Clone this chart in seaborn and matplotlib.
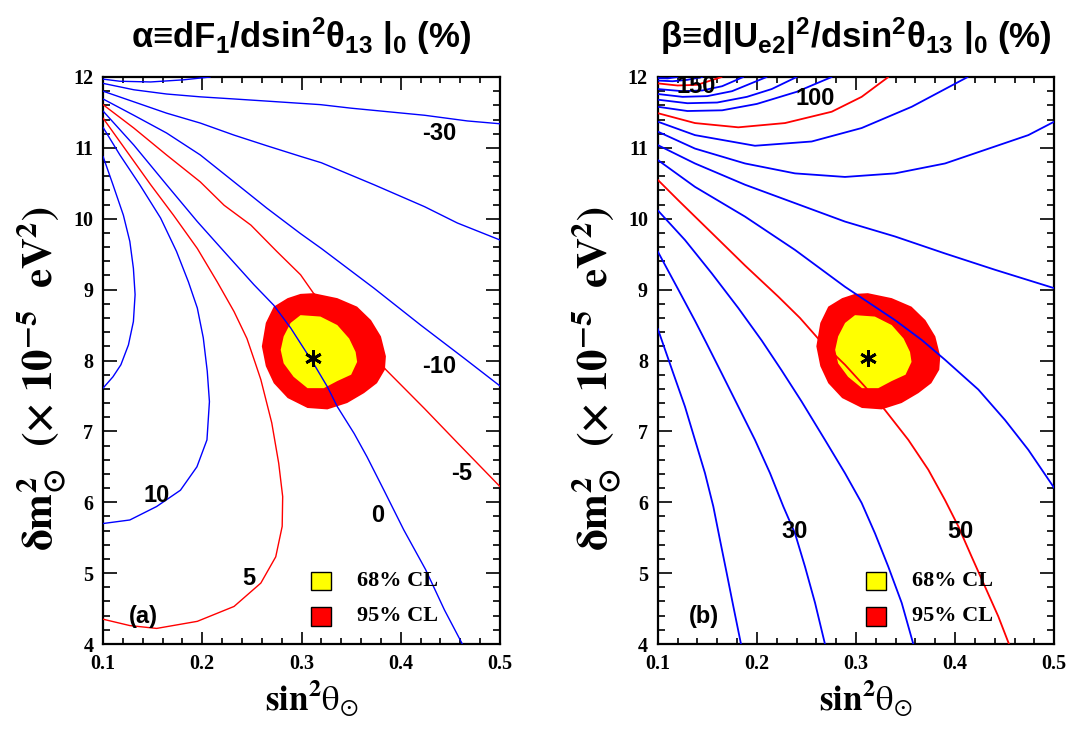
import matplotlib
matplotlib.use("Agg")
import matplotlib.pyplot as plt
import seaborn as sns
from matplotlib.ticker import MultipleLocator
from matplotlib.patches import Rectangle

# ---------------- data ----------------
x_ticks = [0.1, 0.2, 0.3, 0.4, 0.5]
x_tick_labels = ["0.1", "0.2", "0.3", "0.4", "0.5"]
y_ticks = [4, 5, 6, 7, 8, 9, 10, 11, 12]
y_tick_labels = ["4", "5", "6", "7", "8", "9", "10", "11", "12"]

best_x, best_y = 0.312, 8.03

cl95_x = [0.312, 0.336, 0.356, 0.370, 0.380, 0.385, 0.384, 0.376, 0.363, 0.346,
          0.326, 0.306, 0.286, 0.272, 0.264, 0.260, 0.264, 0.272, 0.286, 0.299]
cl95_y = [8.95, 8.88, 8.76, 8.57, 8.34, 8.06, 7.87, 7.68, 7.54, 7.40,
          7.31, 7.33, 7.47, 7.68, 7.92, 8.20, 8.53, 8.76, 8.88, 8.94]
cl68_x = [0.299, 0.319, 0.336, 0.348, 0.3545, 0.356, 0.350, 0.336, 0.3225, 0.306,
          0.292, 0.282, 0.279, 0.282, 0.289]
cl68_y = [8.64, 8.62, 8.50, 8.31, 8.12, 7.98, 7.80, 7.71, 7.61, 7.61,
          7.77, 7.96, 8.15, 8.34, 8.53]

# panel (a): alpha contours
a_top_x = [0.100, 0.117, 0.148, 0.181, 0.208]
a_top_y = [11.97, 11.94, 11.93, 11.96, 12.00]
a_m30_x = [0.100, 0.131, 0.164, 0.198, 0.232, 0.265, 0.319, 0.350, 0.424, 0.467, 0.500]
a_m30_y = [11.91, 11.82, 11.76, 11.72, 11.69, 11.66, 11.61, 11.56, 11.46, 11.38, 11.34]
a_m20_x = [0.100, 0.131, 0.164, 0.198, 0.232, 0.265, 0.299, 0.320, 0.373, 0.424, 0.457, 0.500]
a_m20_y = [11.80, 11.65, 11.49, 11.35, 11.18, 11.03, 10.88, 10.79, 10.48, 10.17, 9.94, 9.70]
a_m10_x = [0.100, 0.131, 0.164, 0.198, 0.232, 0.265, 0.299, 0.320, 0.373, 0.420, 0.464, 0.500]
a_m10_y = [11.69, 11.46, 11.21, 10.90, 10.52, 10.15, 9.79, 9.58, 9.02, 8.50, 8.03, 7.64]
a_m5_x = [0.100, 0.131, 0.164, 0.198, 0.222, 0.249, 0.275, 0.299, 0.312, 0.335, 0.360,
          0.385, 0.424, 0.457, 0.500]
a_m5_y = [11.61, 11.28, 10.90, 10.52, 10.19, 9.91, 9.54, 9.21, 8.95, 8.64, 8.28,
          7.87, 7.32, 6.84, 6.22]
a_0_x = [0.100, 0.131, 0.164, 0.195, 0.225, 0.252, 0.272, 0.289, 0.300, 0.312, 0.326,
         0.336, 0.353, 0.366, 0.383, 0.403, 0.425, 0.444, 0.462]
a_0_y = [11.52, 11.04, 10.48, 9.96, 9.49, 9.07, 8.78, 8.46, 8.22, 7.96, 7.63,
         7.35, 6.97, 6.64, 6.17, 5.61, 5.05, 4.48, 4.00]
a_5_x = [0.100, 0.124, 0.148, 0.171, 0.195, 0.215, 0.232, 0.245, 0.2535, 0.259, 0.270,
         0.277, 0.281, 0.2805, 0.274, 0.259, 0.232, 0.195, 0.154, 0.127, 0.100]
a_5_y = [11.42, 10.95, 10.48, 10.05, 9.58, 9.11, 8.69, 8.31, 7.96, 7.73, 7.12,
         6.55, 6.08, 5.66, 5.23, 4.86, 4.53, 4.32, 4.22, 4.26, 4.35]
a_10_x = [0.100, 0.117, 0.137, 0.158, 0.174, 0.186, 0.195, 0.201, 0.205, 0.2072, 0.2047,
          0.1946, 0.178, 0.154, 0.127, 0.100]
a_10_y = [11.29, 10.90, 10.48, 10.01, 9.54, 9.11, 8.74, 8.32, 7.85, 7.42, 6.88,
          6.50, 6.17, 5.94, 5.75, 5.70]
a_15_x = [0.100, 0.110, 0.1205, 0.127, 0.1306, 0.1323, 0.1306, 0.1256, 0.118, 0.110, 0.100]
a_15_y = [10.88, 10.48, 10.05, 9.68, 9.30, 8.93, 8.55, 8.22, 7.94, 7.77, 7.61]

# panel (b): beta contours
b_1_x = [0.100, 0.104, 0.1157, 0.1275, 0.1376, 0.1477, 0.1561, 0.1628, 0.1696, 0.1763, 0.184]
b_1_y = [8.45, 8.29, 7.82, 7.35, 6.88, 6.41, 5.94, 5.47, 5.00, 4.53, 4.00]
b_30_x = [0.100, 0.1208, 0.138, 0.149, 0.1645, 0.1813, 0.1981, 0.2133, 0.2267, 0.2385,
          0.2486, 0.2587, 0.2687]
b_30_y = [9.54, 9.00, 8.55, 8.25, 7.82, 7.35, 6.88, 6.41, 5.94, 5.56, 5.09, 4.58, 4.00]
b_40_x = [0.100, 0.1275, 0.1545, 0.1813, 0.2050, 0.2250, 0.2452, 0.2687, 0.2889, 0.3057,
          0.3192, 0.3326, 0.3461, 0.3578]
b_40_y = [10.12, 9.70, 9.23, 8.74, 8.28, 7.86, 7.42, 6.88, 6.41, 5.99, 5.56, 5.09, 4.58, 4.00]
b_50_x = [0.100, 0.1208, 0.1545, 0.1881, 0.2217, 0.2435, 0.2637, 0.2889, 0.3091, 0.3293,
          0.3528, 0.3729, 0.3898, 0.4032, 0.4167, 0.4301, 0.4435, 0.4543]
b_50_y = [10.55, 10.26, 9.80, 9.34, 8.90, 8.60, 8.28, 7.94, 7.63, 7.30, 6.88, 6.46, 6.03,
          5.66, 5.23, 4.81, 4.39, 4.00]
b_60_x = [0.100, 0.1376, 0.1881, 0.2385, 0.2889, 0.3393, 0.3663, 0.3898, 0.4234, 0.4503,
          0.4738, 0.500]
b_60_y = [10.83, 10.45, 10.03, 9.56, 9.04, 8.57, 8.29, 8.01, 7.59, 7.16, 6.74, 6.20]
b_70_x = [0.100, 0.1376, 0.1881, 0.2385, 0.2889, 0.3393, 0.3898, 0.4402, 0.500]
b_70_y = [11.04, 10.78, 10.48, 10.22, 9.96, 9.75, 9.51, 9.28, 9.02]
b_80_x = [0.100, 0.1376, 0.1881, 0.2385, 0.2889, 0.3393, 0.3898, 0.4402, 0.4738, 0.500]
b_80_y = [11.23, 10.99, 10.78, 10.64, 10.59, 10.64, 10.78, 11.02, 11.18, 11.37]
b_90_x = [0.100, 0.1376, 0.1981, 0.2553, 0.3057, 0.3562, 0.4127]
b_90_y = [11.37, 11.18, 11.03, 11.09, 11.28, 11.58, 12.00]
b_100_x = [0.100, 0.1376, 0.1813, 0.2284, 0.2755, 0.3057, 0.3326]
b_100_y = [11.49, 11.35, 11.29, 11.35, 11.51, 11.72, 12.00]
b_110_x = [0.100, 0.130, 0.165, 0.200, 0.240, 0.2755]
b_110_y = [11.58, 11.52, 11.53, 11.62, 11.79, 12.00]
b_120_x = [0.100, 0.130, 0.160, 0.190, 0.215, 0.2402]
b_120_y = [11.68, 11.63, 11.64, 11.72, 11.83, 12.00]
b_130_x = [0.100, 0.125, 0.150, 0.175, 0.2099]
b_130_y = [11.76, 11.72, 11.73, 11.80, 12.00]
b_140_x = [0.100, 0.125, 0.145, 0.165, 0.1863]
b_140_y = [11.83, 11.80, 11.81, 11.87, 12.00]
b_150_x = [0.100, 0.120, 0.140, 0.1645]
b_150_y = [11.91, 11.88, 11.89, 12.00]
b_160_x = [0.100, 0.115, 0.130, 0.145]
b_160_y = [11.95, 11.94, 11.96, 12.00]
b_170_x = [0.100, 0.110, 0.120]
b_170_y = [11.985, 11.98, 12.00]

a_labels = [("-30", 0.439, 11.20), ("-10", 0.439, 7.91), ("-5", 0.461, 6.40),
            ("0", 0.377, 5.81), ("10", 0.154, 6.10), ("5", 0.247, 4.92), ("(a)", 0.141, 4.39)]
b_labels = [("150", 0.139, 11.86), ("100", 0.259, 11.70), ("30", 0.238, 5.59),
            ("50", 0.405, 5.59), ("(b)", 0.147, 4.39)]

legend_labels = ["68% CL", "95% CL"]
legend_colors = ["#ffff00", "#ff0000"]

BLUE = "#0000ff"
RED = "#ff0000"

a_lines = [(a_top_x, a_top_y, BLUE), (a_m30_x, a_m30_y, BLUE), (a_m20_x, a_m20_y, BLUE),
           (a_m10_x, a_m10_y, BLUE), (a_m5_x, a_m5_y, RED), (a_0_x, a_0_y, BLUE),
           (a_5_x, a_5_y, RED), (a_10_x, a_10_y, BLUE), (a_15_x, a_15_y, BLUE)]
b_lines = [(b_1_x, b_1_y, BLUE), (b_30_x, b_30_y, BLUE), (b_40_x, b_40_y, BLUE),
           (b_50_x, b_50_y, RED), (b_60_x, b_60_y, BLUE), (b_70_x, b_70_y, BLUE),
           (b_80_x, b_80_y, BLUE), (b_90_x, b_90_y, BLUE), (b_100_x, b_100_y, RED),
           (b_110_x, b_110_y, BLUE), (b_120_x, b_120_y, BLUE), (b_130_x, b_130_y, BLUE),
           (b_140_x, b_140_y, BLUE), (b_150_x, b_150_y, RED), (b_160_x, b_160_y, BLUE),
           (b_170_x, b_170_y, BLUE)]

# ---------------- style ----------------
sns.set_style("ticks")
plt.rcParams["font.family"] = ["Liberation Serif", "DejaVu Sans"]
plt.rcParams["text.color"] = "black"
plt.rcParams["axes.labelcolor"] = "black"
plt.rcParams["xtick.color"] = "black"
plt.rcParams["ytick.color"] = "black"
plt.rcParams["mathtext.fontset"] = "custom"
plt.rcParams["mathtext.rm"] = "Liberation Sans:bold"
plt.rcParams["mathtext.it"] = "Liberation Sans:bold"
plt.rcParams["mathtext.bf"] = "Liberation Sans:bold"
plt.rcParams["mathtext.sf"] = "Liberation Sans:bold"

fig = plt.figure(figsize=(10.71, 7.34), dpi=100)
axL = fig.add_axes([0.0962, 0.1226, 0.3707, 0.7725])
axR = fig.add_axes([0.6141, 0.1226, 0.3703, 0.7725])

titles = ["α≡dF$_1$/dsin$^2$θ$_{13}$ |$_0$ (%)",
          "β≡d|U$_{e2}$|$^2$/dsin$^2$θ$_{13}$ |$_0$ (%)"]


def draw_panel(ax, lines, labels, lw, title):
    ax.fill(cl95_x, cl95_y, color="#ff0000", lw=0, zorder=1)
    ax.fill(cl68_x, cl68_y, color="#ffff00", lw=0, zorder=2)
    for xs, ys, col in lines:
        sns.lineplot(x=xs, y=ys, sort=False, estimator=None, color=col,
                     lw=lw, ax=ax, zorder=3)
    ax.plot([best_x], [best_y], marker=(6, 2, 0), ms=12, mew=2.0, color="k",
            ls="none", zorder=5)
    for txt, tx, ty in labels:
        ax.text(tx, ty, txt, ha="center", va="center", fontsize=17,
                fontweight="bold", family="Liberation Sans", color="black", zorder=6)
    # legend boxes
    for i, (lab, col) in enumerate(zip(legend_labels, legend_colors)):
        yc = 4.89 - 0.50 * i
        ax.add_patch(Rectangle((0.3098, yc - 0.133), 0.0202, 0.266, facecolor=col,
                               edgecolor="k", lw=1.0, zorder=6))
        ax.text(0.356, yc, lab, ha="left", va="center", fontsize=16,
                fontweight="bold", family="Liberation Serif", color="black", zorder=6)

    ax.set_xlim(0.1, 0.5)
    ax.set_ylim(4, 12)
    ax.set_xticks(x_ticks)
    ax.set_xticklabels(x_tick_labels)
    ax.set_yticks(y_ticks)
    ax.set_yticklabels(y_tick_labels)
    ax.xaxis.set_minor_locator(MultipleLocator(0.02))
    ax.yaxis.set_minor_locator(MultipleLocator(0.2))
    ax.tick_params(which="both", direction="in", top=True, right=True, width=1.2,
                   color="k", labelcolor="k")
    ax.tick_params(axis="x", which="major", length=9, pad=7)
    ax.tick_params(axis="x", which="minor", length=4.5)
    ax.tick_params(axis="y", which="major", length=10, pad=7)
    ax.tick_params(axis="y", which="minor", length=5)
    for t in ax.get_xticklabels() + ax.get_yticklabels():
        t.set_fontsize(14.5)
        t.set_fontweight("bold")
        t.set_family("Liberation Serif")
    for s in ax.spines.values():
        s.set_linewidth(1.6)
        s.set_color("k")
    ax.set_xlabel(r"$\mathbf{sin^2}\mathrm{\theta}_{\odot}$", fontsize=25,
                  math_fontfamily="stix", color="black")
    ax.xaxis.set_label_coords(0.526, -0.058)
    ax.set_ylabel(r"$\mathbf{\delta m^2_{\odot}\ \ (\times\ 10^{-5}\ \ eV^2)}$",
                  fontsize=31, math_fontfamily="stix", color="black")
    ax.yaxis.set_label_coords(-0.085, 0.469)
    ax.set_title(title, fontsize=25, fontweight="bold", family="Liberation Sans",
                 pad=21, color="black")


draw_panel(axL, a_lines, a_labels, 1.0, titles[0])
draw_panel(axR, b_lines, b_labels, 1.3, titles[1])

fig.savefig("out.png", dpi=100)
